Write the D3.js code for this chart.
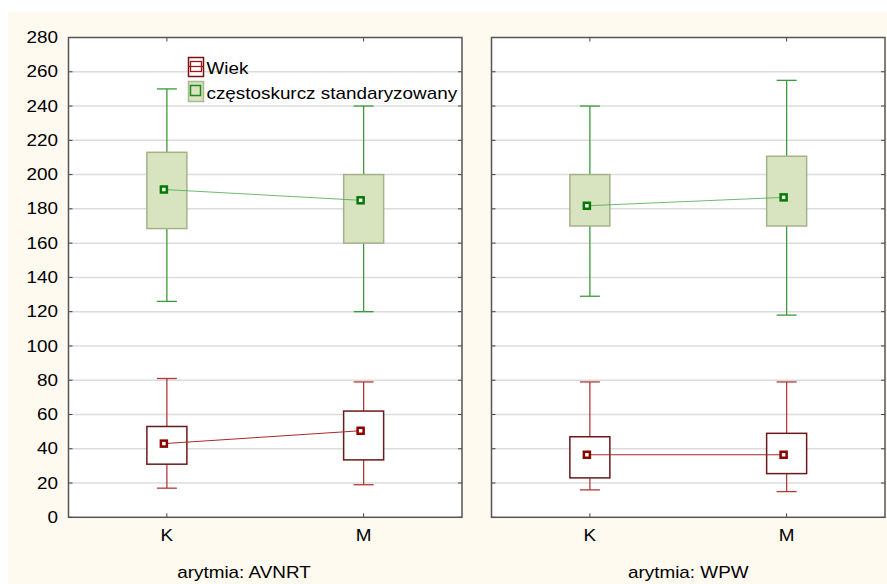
<!DOCTYPE html>
<html>
<head>
<meta charset="utf-8">
<script src="https://cdn.jsdelivr.net/npm/d3@7"></script>
<style>
  body { margin: 0; background: #fff; }
  text { font-family: "Liberation Sans", Arial, sans-serif; fill: #000; }
</style>
</head>
<body>
<div id="chart"></div>
<script>
// data
var panels = ["arytmia: AVNRT", "arytmia: WPW"];
var categories = ["K", "M"];
var yTicks = [0, 20, 40, 60, 80, 100, 120, 140, 160, 180, 200, 220, 240, 260, 280];
// [whiskerLow, boxLow, mid, boxHigh, whiskerHigh] per panel, per category
var wiek = [
    [[17, 31, 43, 53, 81], [19, 33.5, 50.5, 62, 79]],
    [[16, 23, 36.5, 47, 79], [15, 25.5, 36.5, 49, 79]]
];
var czestoskurcz = [
    [[126, 168.5, 191.3, 213, 250], [120, 160, 185, 200, 240]],
    [[129, 170, 181.8, 200, 240], [118, 170, 186.7, 210.7, 255]]
];
var seriesNames = ["Wiek", "częstoskurcz standaryzowany"];

var width = 887, height = 584;
var stretch = 1.18;

var svg = d3.select("#chart").append("svg")
    .attr("width", width)
    .attr("height", height);

svg.append("rect")
    .attr("x", 8).attr("y", 12)
    .attr("width", width - 8).attr("height", height - 12)
    .attr("fill", "#fffaf0");

var yScale = d3.scaleLinear().domain([0, 280]).range([517.3, 37.5]);
var panelX = [[68.5, 462], [491.5, 885]];

var styles = [
    {box: "#fff", boxStroke: "#6a1a1a", whisker: "#b03a3a", mark: "#8b0000", line: "#a52a2a", lineW: 1},
    {box: "#d8e3bf", boxStroke: "#a3b38a", whisker: "#3a9a3a", mark: "#007a00", line: "#4aa84a", lineW: 0.8}
];

function stretchedText(g, x, y, str, anchor, size) {
    return g.append("text")
        .attr("transform", "translate(" + x + "," + y + ") scale(" + stretch + ",1)")
        .attr("text-anchor", anchor)
        .style("font-size", size + "px")
        .text(str);
}

panels.forEach(function(name, p) {
    var x0 = panelX[p][0], x1 = panelX[p][1];
    var xScale = d3.scalePoint().domain(categories).range([x0, x1]).padding(0.5);
    var g = svg.append("g");

    g.append("rect")
        .attr("x", x0).attr("y", yScale(280))
        .attr("width", x1 - x0).attr("height", yScale(0) - yScale(280))
        .attr("fill", "#fff");

    // grid
    g.selectAll(".grid")
        .data(yTicks.slice(1, -1))
        .enter().append("line")
        .attr("x1", x0).attr("x2", x1)
        .attr("y1", function(d) { return yScale(d); })
        .attr("y2", function(d) { return yScale(d); })
        .attr("stroke", "#dcdcdc")
        .attr("stroke-width", 1.5);

    // inner ticks
    g.selectAll(".tl")
        .data(yTicks)
        .enter().append("line")
        .attr("x1", x0).attr("x2", x0 + 4)
        .attr("y1", function(d) { return yScale(d); })
        .attr("y2", function(d) { return yScale(d); })
        .attr("stroke", "#444");
    g.selectAll(".tr")
        .data(yTicks)
        .enter().append("line")
        .attr("x1", x1 - 4).attr("x2", x1)
        .attr("y1", function(d) { return yScale(d); })
        .attr("y2", function(d) { return yScale(d); })
        .attr("stroke", "#444");
    categories.forEach(function(c) {
        g.append("line")
            .attr("x1", xScale(c)).attr("x2", xScale(c))
            .attr("y1", yScale(280)).attr("y2", yScale(280) + 4)
            .attr("stroke", "#444");
        g.append("line")
            .attr("x1", xScale(c)).attr("x2", xScale(c))
            .attr("y1", yScale(0)).attr("y2", yScale(0) - 4)
            .attr("stroke", "#444");
        stretchedText(g, xScale(c), 541, c, "middle", 16);
    });

    [wiek[p], czestoskurcz[p]].forEach(function(series, s) {
        var st = styles[s];
        var bw = 40, cw = 20;

        series.forEach(function(d, i) {
            var cx = xScale(categories[i]);
            g.append("line")
                .attr("x1", cx).attr("x2", cx)
                .attr("y1", yScale(d[4])).attr("y2", yScale(d[0]))
                .attr("stroke", st.whisker).attr("stroke-width", 1.3);
            [d[0], d[4]].forEach(function(v) {
                g.append("line")
                    .attr("x1", cx - cw / 2).attr("x2", cx + cw / 2)
                    .attr("y1", yScale(v)).attr("y2", yScale(v))
                    .attr("stroke", st.whisker).attr("stroke-width", 1.3);
            });
            g.append("rect")
                .attr("x", cx - bw / 2).attr("y", yScale(d[3]))
                .attr("width", bw).attr("height", yScale(d[1]) - yScale(d[3]))
                .attr("fill", st.box)
                .attr("stroke", st.boxStroke).attr("stroke-width", 1.5);
        });

        g.append("path")
            .datum(series)
            .attr("fill", "none")
            .attr("stroke", st.line)
            .attr("stroke-width", st.lineW)
            .attr("d", d3.line()
                .x(function(d, i) { return xScale(categories[i]) - 3; })
                .y(function(d) { return yScale(d[2]); }));

        series.forEach(function(d, i) {
            var cx = xScale(categories[i]) - 3;
            g.append("rect")
                .attr("x", cx - 3).attr("y", yScale(d[2]) - 3)
                .attr("width", 6).attr("height", 6)
                .attr("fill", "#fff")
                .attr("stroke", st.mark).attr("stroke-width", 2.5);
        });
    });

    // frame
    g.append("rect")
        .attr("x", x0).attr("y", yScale(280))
        .attr("width", x1 - x0).attr("height", yScale(0) - yScale(280))
        .attr("fill", "none")
        .attr("stroke", "#555").attr("stroke-width", 1.5);

    var labelX = p === 0 ? 244 : (x0 + x1) / 2;
    stretchedText(g, labelX, 578, name, "middle", 16);
});

// y axis labels
var yAxis = d3.axisLeft(yScale).tickValues(yTicks).tickSize(0).tickPadding(0);
var ya = svg.append("g")
    .attr("transform", "translate(58,0)")
    .call(yAxis);
ya.select(".domain").remove();
ya.selectAll("text")
    .style("font-size", "16px")
    .attr("x", 0)
    .attr("transform", "scale(" + stretch + ",1)")
    .attr("dy", "0.35em");
ya.selectAll(".tick")
    .attr("transform", function(d) { return "translate(0," + yScale(d) + ")"; });

// legend
var lg = svg.append("g");
lg.append("rect").attr("x", 188.5).attr("y", 57.5).attr("width", 15).attr("height", 19)
    .attr("fill", "#fff").attr("stroke", "#7a1010").attr("stroke-width", 1.5);
lg.append("rect").attr("x", 190.5).attr("y", 61.5).attr("width", 11).attr("height", 10)
    .attr("fill", "none").attr("stroke", "#a01818").attr("stroke-width", 1.3);
lg.append("line").attr("x1", 188.5).attr("x2", 203.5).attr("y1", 66.5).attr("y2", 66.5)
    .attr("stroke", "#a01818").attr("stroke-width", 1.3);
lg.append("rect").attr("x", 188.5).attr("y", 81.5).attr("width", 15).attr("height", 20)
    .attr("fill", "#d8e3bf").attr("stroke", "#aab894").attr("stroke-width", 1.5);
lg.append("rect").attr("x", 190.5).attr("y", 85.5).attr("width", 10).attr("height", 10)
    .attr("fill", "none").attr("stroke", "#1c8a1c").attr("stroke-width", 1.5);
stretchedText(lg, 206.5, 74, seriesNames[0], "start", 16);
stretchedText(lg, 206.5, 98.5, seriesNames[1], "start", 16);
</script>
</body>
</html>
